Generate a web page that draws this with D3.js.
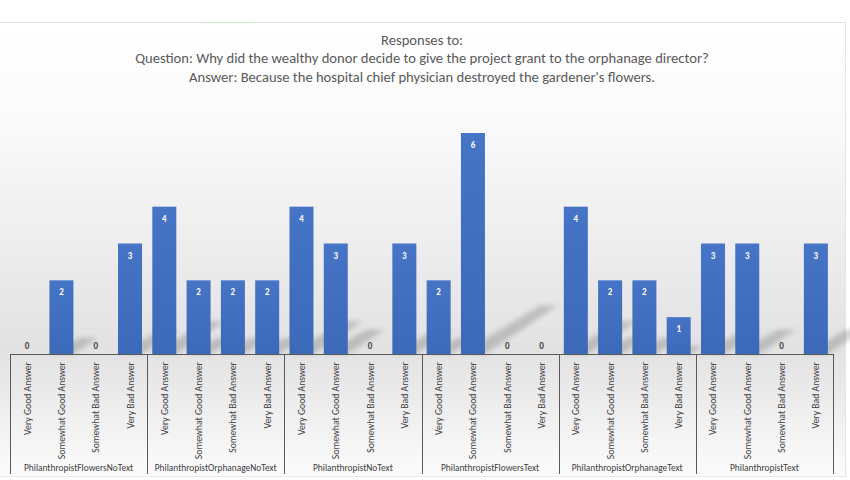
<!DOCTYPE html>
<html>
<head>
<meta charset="utf-8">
<script src="https://cdn.jsdelivr.net/npm/d3@7"></script>
<style>
  body { margin: 0; background: #ffffff; }
  svg text { font-family: Carlito, "Liberation Sans Narrow", "Open Sans", sans-serif; }
</style>
</head>
<body>
<svg id="chart" width="850" height="480"></svg>
<script>
// data
const groups = [
  "PhilanthropistFlowersNoText",
  "PhilanthropistOrphanageNoText",
  "PhilanthropistNoText",
  "PhilanthropistFlowersText",
  "PhilanthropistOrphanageText",
  "PhilanthropistText"
];
const answers = ["Very Good Answer", "Somewhat Good Answer", "Somewhat Bad Answer", "Very Bad Answer"];
const counts = [
  [0, 2, 0, 3],
  [4, 2, 2, 2],
  [4, 3, 0, 3],
  [2, 6, 0, 0],
  [4, 2, 2, 1],
  [3, 3, 0, 3]
];
const titleLines = [
  "Responses to:",
  "Question: Why did the wealthy donor decide to give the project grant to the orphanage director?",
  "Answer: Because the hospital chief physician destroyed the gardener's flowers."
];

let rows = [];
groups.forEach(function (g, gi) {
  answers.forEach(function (a, ai) {
    rows.push({ key: gi + "_" + ai, group: g, answer: a, value: counts[gi][ai] });
  });
});

let svg = d3.select("#chart");
let defs = svg.append("defs");

// background gradient like the Excel chart style
let bg = defs.append("linearGradient").attr("id", "bg").attr("x1", 0).attr("y1", 0).attr("x2", 0).attr("y2", 1);
bg.append("stop").attr("offset", "0").attr("stop-color", "#ffffff");
bg.append("stop").attr("offset", "0.2").attr("stop-color", "#fbfbfb");
bg.append("stop").attr("offset", "0.72").attr("stop-color", "#e2e2e2");
bg.append("stop").attr("offset", "0.8").attr("stop-color", "#e9e9e9");
bg.append("stop").attr("offset", "1").attr("stop-color", "#fcfcfc");

let barGrad = defs.append("linearGradient").attr("id", "barGrad").attr("x1", 0).attr("y1", 0).attr("x2", 0).attr("y2", 1);
barGrad.append("stop").attr("offset", "0").attr("stop-color", "#4674c6");
barGrad.append("stop").attr("offset", "1").attr("stop-color", "#3c69b8");

defs.append("filter").attr("id", "blur").attr("x", "-20%").attr("y", "-20%").attr("width", "140%").attr("height", "140%")
  .append("feGaussianBlur").attr("stdDeviation", 2.5);

// chart area
svg.append("rect").attr("x", 0).attr("y", 22).attr("width", 846).attr("height", 454).attr("fill", "url(#bg)");
svg.append("line").attr("x1", 0).attr("x2", 846).attr("y1", 22.5).attr("y2", 22.5).attr("stroke", "#e4e4e4");
svg.append("line").attr("x1", 202).attr("x2", 253).attr("y1", 22.5).attr("y2", 22.5).attr("stroke", "#c6e4c6");
svg.append("line").attr("x1", 845.5).attr("x2", 845.5).attr("y1", 22).attr("y2", 476).attr("stroke", "#e4e4e4");
svg.append("line").attr("x1", 0).attr("x2", 846).attr("y1", 476.5).attr("y2", 476.5).attr("stroke", "#e8e8e8");

// title
svg.append("text")
  .attr("text-anchor", "middle")
  .attr("fill", "#595959")
  .style("font-size", "14.6px")
  .selectAll("tspan")
  .data(titleLines)
  .enter()
  .append("tspan")
  .attr("x", 422)
  .attr("y", function (d, i) { return 45 + i * 18.3; })
  .text(function (d) { return d; });

// scales
let xScale = d3.scaleBand()
  .domain(rows.map(function (d) { return d.key; }))
  .range([10, 833])
  .paddingInner(0.3)
  .paddingOuter(0.15);
let groupScale = d3.scaleBand().domain(groups).range([10, 833]);
let yScale = d3.scaleLinear().domain([0, 6]).range([354, 133]);

// cast shadows
svg.append("g")
  .attr("filter", "url(#blur)")
  .attr("opacity", 0.26)
  .selectAll("path")
  .data(rows.filter(function (d) { return d.value > 0; }))
  .enter()
  .append("path")
  .attr("fill", "#505050")
  .attr("d", function (d) {
    let x0 = xScale(d.key);
    let x1 = x0 + xScale.bandwidth();
    let base = yScale(0);
    let h = base - yScale(d.value);
    let dx = h * 0.33, dy = -h * 0.22;
    return `M${x0},${base} L${x1},${base} L${x1 + dx},${base + dy} L${x0 + dx + 6},${base + dy} Z`;
  });

// bars
svg.append("g")
  .selectAll("rect")
  .data(rows)
  .enter()
  .append("rect")
  .attr("x", function (d) { return xScale(d.key); })
  .attr("y", function (d) { return yScale(d.value); })
  .attr("width", xScale.bandwidth())
  .attr("height", function (d) { return yScale(0) - yScale(d.value); })
  .attr("fill", "url(#barGrad)");

// value labels
svg.append("g")
  .selectAll("text")
  .data(rows)
  .enter()
  .append("text")
  .attr("x", function (d) { return xScale(d.key) + xScale.bandwidth() / 2; })
  .attr("y", function (d) { return d.value > 0 ? yScale(d.value) + 15 : yScale(0) - 5.5; })
  .attr("text-anchor", "middle")
  .attr("fill", function (d) { return d.value > 0 ? "#ffffff" : "#404040"; })
  .style("font-size", "9px")
  .style("font-weight", "bold")
  .text(function (d) { return d.value; });

// x axis: baseline and group separators
let axis = svg.append("g").attr("stroke", "#595959").attr("stroke-width", 1);
axis.append("line").attr("x1", 10).attr("x2", 833).attr("y1", 354.5).attr("y2", 354.5);
groups.concat(["end"]).forEach(function (g, i) {
  let x = i < groups.length ? groupScale(g) : 833;
  axis.append("line")
    .attr("x1", Math.round(x) + 0.5).attr("x2", Math.round(x) + 0.5)
    .attr("y1", 354).attr("y2", 474);
});

// category labels
svg.append("g")
  .selectAll("text")
  .data(rows)
  .enter()
  .append("text")
  .attr("transform", function (d) {
    return `translate(${xScale(d.key) + xScale.bandwidth() / 2 + 3.5},${362}) rotate(-90)`;
  })
  .attr("text-anchor", "end")
  .attr("fill", "#404040")
  .style("font-size", "9.7px")
  .text(function (d) { return d.answer; });

// group labels
svg.append("g")
  .selectAll("text")
  .data(groups)
  .enter()
  .append("text")
  .attr("x", function (d) { return groupScale(d) + groupScale.bandwidth() / 2; })
  .attr("y", 470.5)
  .attr("text-anchor", "middle")
  .attr("fill", "#404040")
  .style("font-size", "9.4px")
  .text(function (d) { return d; });
</script>
</body>
</html>
